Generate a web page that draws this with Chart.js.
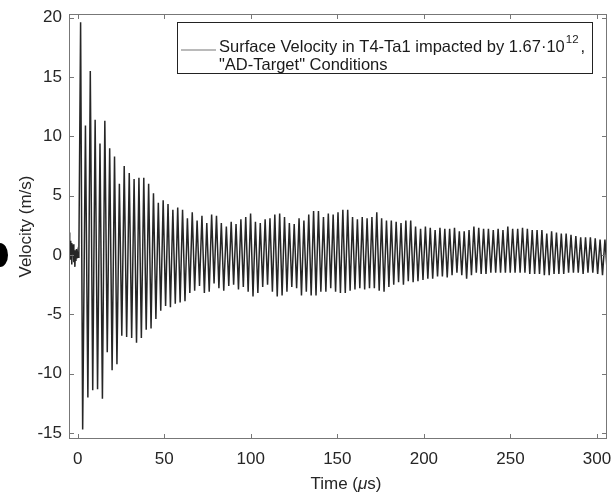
<!DOCTYPE html>
<html><head><meta charset="utf-8">
<script src="https://cdn.jsdelivr.net/npm/chart.js@4.4.1/dist/chart.umd.min.js"></script>
<style>html,body{margin:0;padding:0;background:#fff}#wrap{width:612px;height:496px}</style>
</head><body><div id="wrap"><canvas id="c" width="612" height="496"></canvas></div>
<script>
// pre-impact noise
const noiseTime = [-4.9,-4.6,-4.3,-4.0,-3.7,-3.4,-3.1,-2.8,-2.5,-2.2,-1.9,-1.6,-1.3,-1.0,-0.7,-0.4,-0.1,0.3,0.7];
const noiseVel  = [1.9,0.6,1.2,-0.4,1.0,-0.8,0.6,0.1,0.9,-0.6,0.4,-1.0,0.3,-0.5,0.5,-0.3,0.2,-0.2,0.1];
// oscillation maxima
const peakTime = [1.7,4.5,7.3,10.1,12.9,15.7,18.5,21.3,24.1,26.9,29.8,32.6,35.4,38.2,41.0,43.8,46.6,49.4,52.2,55.0,57.8,60.6,63.4,66.2,69.0,71.8,74.6,77.4,80.2,83.0,85.9,88.7,91.5,94.3,97.1,99.9,102.7,105.5,108.3,111.1,113.9,116.7,119.5,122.3,125.1,127.9,130.7,133.5,136.3,139.1,142.0,144.8,147.6,150.4,153.2,156.0,158.8,161.6,164.4,167.2,170.0,172.8,175.6,178.4,181.2,184.0,186.8,189.6,192.4,195.2,198.1,200.9,203.7,206.5,209.3,212.1,214.9,217.7,220.5,223.3,226.1,228.9,231.7,234.5,237.3,240.1,242.9,245.7,248.5,251.3,254.2,257.0,259.8,262.6,265.4,268.2,271.0,273.8,276.6,279.4,282.2,285.0,287.8,290.6,293.4,296.2,299.0,301.8,304.6];
const peakVel = [19.6,10.9,15.5,11.4,9.4,11.3,9.0,8.3,6.0,7.5,6.9,6.4,6.5,6.5,6.0,5.2,4.4,4.6,4.3,3.8,4.0,3.8,3.1,3.6,2.9,3.3,2.7,3.4,3.3,2.7,2.4,2.8,2.6,3.0,3.2,3.5,2.8,2.7,3.0,3.1,3.4,3.5,3.2,2.7,2.6,3.1,2.9,3.4,3.7,3.7,3.2,3.5,3.4,3.6,3.8,3.8,3.2,3.0,3.2,3.1,3.2,3.6,3.1,2.9,2.9,2.8,2.7,2.9,2.9,2.4,2.2,2.4,2.3,2.1,2.3,2.2,2.2,2.3,2.0,2.0,2.1,2.4,2.3,2.2,2.2,2.1,2.2,2.1,2.4,2.2,2.2,2.3,2.2,2.1,2.1,2.1,1.8,2.0,1.9,1.8,1.8,1.7,1.6,1.5,1.5,1.5,1.4,1.3,1.3];
// oscillation minima
const troughTime = [2.9,5.9,8.7,11.5,14.3,17.1,19.9,22.7,25.5,28.3,31.2,34.0,36.8,39.6,42.4,45.2,48.0,50.8,53.6,56.4,59.2,62.0,64.8,67.6,70.4,73.2,76.0,78.8,81.6,84.4,87.3,90.1,92.9,95.7,98.5,101.3,104.1,106.9,109.7,112.5,115.3,118.1,120.9,123.7,126.5,129.3,132.1,134.9,137.7,140.5,143.4,146.2,149.0,151.8,154.6,157.4,160.2,163.0,165.8,168.6,171.4,174.2,177.0,179.8,182.6,185.4,188.2,191.0,193.8,196.6,199.5,202.3,205.1,207.9,210.7,213.5,216.3,219.1,221.9,224.7,227.5,230.3,233.1,235.9,238.7,241.5,244.3,247.1,249.9,252.7,255.6,258.4,261.2,264.0,266.8,269.6,272.4,275.2,278.0,280.8,283.6,286.4,289.2,292.0,294.8,297.6,300.4,303.2,306.0];
const troughVel = [-14.7,-12.0,-11.4,-11.3,-12.1,-8.2,-9.7,-9.2,-6.8,-6.9,-7.0,-7.4,-7.0,-6.3,-6.2,-5.4,-4.7,-4.3,-4.4,-4.1,-4.0,-3.9,-3.2,-3.0,-2.6,-3.2,-3.1,-2.4,-2.8,-3.0,-2.6,-2.5,-2.9,-2.7,-3.1,-3.5,-3.2,-2.7,-2.5,-3.1,-3.5,-3.4,-3.1,-2.7,-2.8,-3.4,-3.1,-3.4,-3.4,-3.1,-3.1,-2.8,-3.1,-3.2,-3.2,-3.0,-2.9,-2.8,-2.9,-2.8,-2.8,-3.0,-3.1,-2.7,-2.5,-2.3,-2.5,-2.2,-2.3,-2.2,-2.1,-2.0,-2.0,-1.8,-1.8,-1.9,-1.7,-1.5,-1.7,-2.0,-1.7,-1.5,-1.6,-1.6,-1.5,-1.5,-1.5,-1.5,-1.5,-1.5,-1.5,-1.5,-1.6,-1.6,-1.6,-1.7,-1.7,-1.6,-1.6,-1.6,-1.5,-1.5,-1.5,-1.6,-1.5,-1.5,-1.6,-1.7,-1.6];
const xTicks = [0,50,100,150,200,250,300];
const yTicks = [-15,-10,-5,0,5,10,15,20];
const legendLine1 = 'Surface Velocity in T4-Ta1 impacted by 1.67\u00B710';
const legendSup = '12';
const legendLine2 = '"AD-Target" Conditions';
const xTitleParts = ['Time (', '\u03BC', 's)'];

const pts = noiseTime.map((t,i)=>({x:t,y:noiseVel[i]}));
peakTime.forEach((t,i)=>{
  pts.push({x:t,y:peakVel[i]});
  if (i < troughTime.length) pts.push({x:troughTime[i],y:troughVel[i]});
});

const FONT = '"Liberation Sans", Arial, sans-serif';

const frame = {
  id:'frame',
  afterDraw(chart){
    const {ctx, chartArea:a, scales:{x,y}} = chart;
    ctx.save();
    ctx.strokeStyle = '#777'; ctx.lineWidth = 1;
    ctx.strokeRect(Math.round(a.left)+0.5, Math.round(a.top)+0.5, Math.round(a.right-a.left)-1, Math.round(a.bottom-a.top)-1);
    ctx.beginPath();
    xTicks.forEach(v=>{
      const p = Math.round(x.getPixelForValue(v))+0.5;
      ctx.moveTo(p,a.bottom); ctx.lineTo(p,a.bottom-5);
      ctx.moveTo(p,a.top); ctx.lineTo(p,a.top+5);
    });
    yTicks.forEach(v=>{
      const p = Math.round(y.getPixelForValue(v))+0.5;
      ctx.moveTo(a.left,p); ctx.lineTo(a.left+5,p);
      ctx.moveTo(a.right,p); ctx.lineTo(a.right-5,p);
    });
    ctx.stroke();
    // legend
    const bx = 177.5, by = 22.5, bw = 415, bh = 51;
    ctx.fillStyle = '#fff';
    ctx.fillRect(bx,by,bw,bh);
    ctx.strokeStyle = '#222';
    ctx.strokeRect(bx,by,bw,bh);
    ctx.strokeStyle = '#777'; ctx.lineWidth = 1.2;
    ctx.beginPath(); ctx.moveTo(181,50); ctx.lineTo(216,50); ctx.stroke();
    ctx.fillStyle = '#1a1a1a';
    ctx.textBaseline = 'alphabetic'; ctx.textAlign = 'left';
    ctx.font = '16.5px ' + FONT;
    ctx.fillText(legendLine1, 219, 52);
    const w1 = ctx.measureText(legendLine1).width;
    ctx.font = '11.5px ' + FONT;
    ctx.fillText(legendSup, 219 + w1 + 1, 43);
    const w2 = ctx.measureText(legendSup).width;
    ctx.font = '16.5px ' + FONT;
    ctx.fillText(',', 219 + w1 + w2 + 3, 52);
    ctx.fillText(legendLine2, 219, 70);
    // x-axis title with italic mu
    ctx.fillStyle = '#262626';
    const fReg = '17px ' + FONT, fIt = 'italic 17px ' + FONT;
    ctx.font = fReg; const a1 = ctx.measureText(xTitleParts[0]).width, a3 = ctx.measureText(xTitleParts[2]).width;
    ctx.font = fIt; const a2 = ctx.measureText(xTitleParts[1]).width;
    let tx = 346 - (a1+a2+a3)/2; const ty = 489;
    ctx.font = fReg; ctx.fillText(xTitleParts[0], tx, ty); tx += a1;
    ctx.font = fIt; ctx.fillText(xTitleParts[1], tx, ty); tx += a2;
    ctx.font = fReg; ctx.fillText(xTitleParts[2], tx, ty);
    // dark blot at left edge of the scan
    ctx.fillStyle = '#000';
    ctx.beginPath(); ctx.ellipse(0, 255, 8, 12, 0, 0, Math.PI*2); ctx.fill();
    ctx.restore();
  }
};

new Chart(document.getElementById('c'), {
  type: 'line',
  data: { datasets: [{
    data: pts,
    borderColor: '#262626',
    borderWidth: 1.5,
    pointRadius: 0,
    tension: 0,
    fill: false
  }]},
  options: {
    responsive: false,
    animation: false,
    devicePixelRatio: 1,
    layout: { padding: { left: 0, right: 5, top: 14, bottom: 0 } },
    plugins: { legend: { display: false }, tooltip: { enabled: false } },
    scales: {
      x: {
        type: 'linear', min: -5, max: 305.8,
        afterBuildTicks: s => { s.ticks = xTicks.map(v=>({value:v})); },
        afterFit: s => { s.height = 57; s.paddingLeft = 0; s.paddingRight = 0; },
        grid: { display: false, drawTicks: false },
        border: { display: false },
        ticks: { color: '#262626', font: { family: FONT, size: 17 }, padding: 10, maxRotation: 0 },
        title: { display: false }
      },
      y: {
        type: 'linear', min: -15.5, max: 20.3,
        afterBuildTicks: s => { s.ticks = yTicks.map(v=>({value:v})); },
        afterFit: s => { s.width = 69; s.paddingTop = 0; s.paddingBottom = 0; },
        grid: { display: false, drawTicks: false },
        border: { display: false },
        ticks: { color: '#262626', font: { family: FONT, size: 17 }, padding: 7 },
        title: { display: true, text: 'Velocity (m/s)', color: '#262626', font: { family: FONT, size: 17 }, padding: { top: 16, bottom: 0 } }
      }
    }
  },
  plugins: [frame]
});
</script>
</body></html>
